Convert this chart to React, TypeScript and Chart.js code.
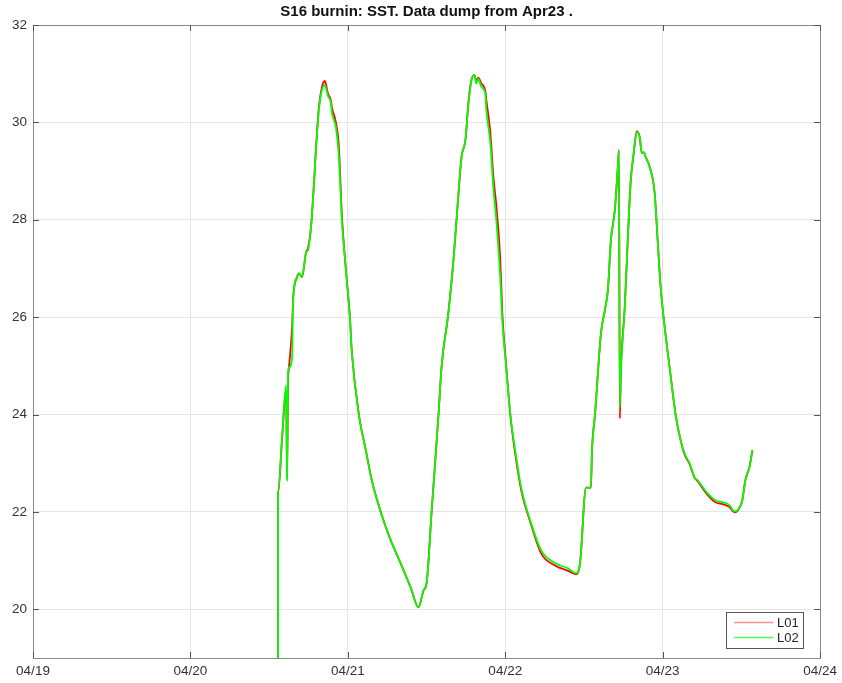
import React, { useEffect, useRef } from 'react';
import { Chart, registerables } from 'chart.js';

Chart.register(...registerables);

// time in days since 04/19 00:00
const timeDays = [
  1.557, 1.557, 1.582, 1.608, 1.614, 1.620, 1.627, 1.646, 1.652, 1.677,
  1.690, 1.709, 1.734, 1.747, 1.766, 1.785, 1.797, 1.816, 1.835, 1.854,
  1.873, 1.892, 1.899, 1.924, 1.943, 1.962, 1.987, 2.013, 2.025, 2.070,
  2.114, 2.152, 2.209, 2.272, 2.335, 2.399, 2.449, 2.481, 2.500, 2.532,
  2.576, 2.595, 2.639, 2.671, 2.703, 2.722, 2.747, 2.766, 2.785, 2.804,
  2.816, 2.829, 2.848, 2.873, 2.880, 2.905, 2.924, 2.943, 2.968, 2.981,
  3.006, 3.032, 3.063, 3.101, 3.158, 3.228, 3.316, 3.399, 3.449, 3.475,
  3.513, 3.544, 3.551, 3.570, 3.608, 3.633, 3.652, 3.671, 3.696, 3.715,
  3.722, 3.728, 3.734, 3.759, 3.778, 3.797, 3.816, 3.835, 3.854, 3.867,
  3.880, 3.892, 3.918, 3.949, 3.968, 3.987, 4.013, 4.044, 4.082, 4.114,
  4.139, 4.171, 4.203, 4.222, 4.285, 4.335, 4.380, 4.424, 4.456, 4.475,
  4.506, 4.525, 4.551, 4.570,
];

const l01Values = [
  18.0, 22.4, 23.5, 24.5, 22.7, 24.6, 25.0, 25.8, 26.35, 26.82,
  26.9, 26.82, 27.32, 27.42, 27.85, 28.75, 29.43, 30.3, 30.72, 30.85,
  30.6, 30.45, 30.3, 30.0, 29.5, 28.1, 27.0, 26.0, 25.3, 24.0,
  23.27, 22.65, 22.0, 21.42, 20.95, 20.45, 20.04, 20.39, 20.53, 22.0,
  24.0, 24.97, 26.1, 27.17, 28.55, 29.29, 29.64, 30.4, 30.87, 30.97,
  30.85, 30.92, 30.8, 30.65, 30.45, 29.8, 28.9, 28.3, 27.2, 26.1,
  25.0, 24.0, 23.2, 22.45, 21.8, 21.15, 20.9, 20.79, 20.72, 20.95,
  22.5, 22.5, 23.27, 24.0, 25.67, 26.15, 26.56, 27.58, 28.2, 29.08,
  29.43, 23.92, 24.85, 26.2, 27.58, 28.8, 29.37, 29.82, 29.7, 29.37,
  29.39, 29.29, 29.08, 28.55, 27.58, 26.62, 25.79, 24.97, 24.0, 23.47,
  23.18, 22.98, 22.7, 22.63, 22.35, 22.2, 22.16, 22.1, 21.99, 22.02,
  22.24, 22.65, 22.92, 23.27,
];

const l02Values = [
  18.0, 22.4, 23.5, 24.6, 22.65, 24.85, 24.97, 25.18, 26.35, 26.82,
  26.9, 26.82, 27.32, 27.38, 27.85, 28.75, 29.43, 30.25, 30.66, 30.77,
  30.55, 30.4, 30.19, 29.9, 29.29, 28.0, 27.0, 26.0, 25.3, 24.0,
  23.27, 22.65, 22.0, 21.42, 20.95, 20.45, 20.04, 20.39, 20.53, 22.0,
  24.0, 24.97, 26.1, 27.17, 28.55, 29.29, 29.64, 30.4, 30.87, 30.97,
  30.8, 30.9, 30.73, 30.6, 30.25, 29.58, 28.67, 28.0, 26.82, 25.94,
  24.97, 24.0, 23.27, 22.5, 21.83, 21.21, 20.95, 20.84, 20.74, 20.95,
  22.5, 22.5, 23.27, 24.0, 25.67, 26.15, 26.56, 27.58, 28.2, 29.08,
  29.43, 24.15, 24.85, 26.2, 27.58, 28.8, 29.37, 29.8, 29.7, 29.37,
  29.39, 29.29, 29.08, 28.55, 27.58, 26.62, 25.79, 24.97, 24.0, 23.47,
  23.2, 23.0, 22.71, 22.65, 22.38, 22.24, 22.2, 22.14, 22.01, 22.03,
  22.24, 22.65, 22.92, 23.27,
];

const xTickValues = [0, 1, 2, 3, 4, 5];
const xTickLabels = ['04/19', '04/20', '04/21', '04/22', '04/23', '04/24'];
const yTickValues = [20, 22, 24, 26, 28, 30, 32];
const seriesNames = ['L01', 'L02'];
const seriesColors = ['#ff0000', '#00ff00'];
const titleText = 'S16 burnin: SST. Data dump from Apr23 .';

const FONT = '"Liberation Sans", Arial, Helvetica, sans-serif';

const framePlugin = {
  id: 'framePlugin',
  afterDraw(chart: any) {
    const { ctx, chartArea } = chart;
    const { left, right, top, bottom } = chartArea;
    const xs = chart.scales.x;
    const ys = chart.scales.y;
    ctx.save();
    // box
    ctx.strokeStyle = '#8a8a8a';
    ctx.lineWidth = 1;
    ctx.strokeRect(Math.round(left) + 0.5, Math.round(top) + 0.5, Math.round(right - left), Math.round(bottom - top));
    // inward ticks
    ctx.strokeStyle = '#555555';
    const tl = 6;
    ctx.beginPath();
    xTickValues.forEach((v) => {
      const px = Math.round(xs.getPixelForValue(v)) + 0.5;
      ctx.moveTo(px, bottom);
      ctx.lineTo(px, bottom - tl);
      ctx.moveTo(px, top);
      ctx.lineTo(px, top + tl);
    });
    yTickValues.forEach((v) => {
      const py = Math.round(ys.getPixelForValue(v)) + 0.5;
      ctx.moveTo(left, py);
      ctx.lineTo(left + tl, py);
      ctx.moveTo(right, py);
      ctx.lineTo(right - tl, py);
    });
    ctx.stroke();

    // title
    ctx.fillStyle = '#111111';
    ctx.font = `bold 15px ${FONT}`;
    ctx.textAlign = 'center';
    ctx.textBaseline = 'middle';
    ctx.fillText(titleText, (left + right) / 2, 12);

    // legend
    const bx2 = right - 17;
    const by2 = bottom - 10;
    const bw = 77;
    const bh = 36;
    const bx = bx2 - bw;
    const by = by2 - bh;
    ctx.fillStyle = '#ffffff';
    ctx.fillRect(bx, by, bw, bh);
    ctx.strokeStyle = '#555555';
    ctx.lineWidth = 1;
    ctx.strokeRect(Math.round(bx) + 0.5, Math.round(by) + 0.5, bw, bh);
    ctx.font = `13px ${FONT}`;
    ctx.textAlign = 'left';
    seriesNames.forEach((name, i) => {
      const ly = by + 10 + i * 15;
      ctx.strokeStyle = seriesColors[i];
      ctx.lineWidth = 1.5;
      ctx.globalAlpha = i === 0 ? 0.45 : 0.7;
      ctx.beginPath();
      ctx.moveTo(bx + 8, ly + 0.5);
      ctx.lineTo(bx + 47, ly + 0.5);
      ctx.stroke();
      ctx.globalAlpha = 1;
      ctx.fillStyle = '#222222';
      ctx.fillText(name, bx + 51, ly + 1);
    });
    ctx.restore();
  },
};

export default function App() {
  const canvasRef = useRef<HTMLCanvasElement | null>(null);

  useEffect(() => {
    if (!canvasRef.current) return;
    const chart = new Chart(canvasRef.current, {
      type: 'line',
      data: {
        datasets: [
          {
            label: seriesNames[0],
            data: timeDays.map((t, i) => ({ x: t, y: l01Values[i] })),
            borderColor: seriesColors[0],
            borderWidth: 1.8,
            pointRadius: 0,
            cubicInterpolationMode: 'monotone',
            order: 2,
          },
          {
            label: seriesNames[1],
            data: timeDays.map((t, i) => ({ x: t, y: l02Values[i] })),
            borderColor: seriesColors[1],
            borderWidth: 1.8,
            pointRadius: 0,
            cubicInterpolationMode: 'monotone',
            order: 1,
          },
        ],
      },
      options: {
        responsive: false,
        animation: false,
        devicePixelRatio: 1,
        parsing: false as any,
        layout: { padding: { top: 25, right: 19, left: 0, bottom: 0 } },
        plugins: {
          legend: { display: false },
          title: { display: false },
          tooltip: { enabled: false },
        },
        scales: {
          x: {
            type: 'linear',
            min: 0,
            max: 5,
            afterBuildTicks: (s: any) => {
              s.ticks = xTickValues.map((v) => ({ value: v }));
            },
            afterFit: (s: any) => {
              s.height = 25;
            },
            ticks: {
              callback: (v: any) => xTickLabels[xTickValues.indexOf(Number(v))] ?? '',
              font: { family: FONT, size: 13.5 },
              color: '#333333',
              padding: 5,
              maxRotation: 0,
              autoSkip: false,
            },
            grid: { color: '#e6e6e6', lineWidth: 1, drawTicks: false },
            border: { display: false },
          },
          y: {
            type: 'linear',
            min: 19,
            max: 32,
            afterBuildTicks: (s: any) => {
              s.ticks = yTickValues.map((v) => ({ value: v }));
            },
            afterFit: (s: any) => {
              s.width = 33;
            },
            ticks: {
              font: { family: FONT, size: 13.5 },
              color: '#333333',
              padding: 6,
            },
            grid: { color: '#e6e6e6', lineWidth: 1, drawTicks: false },
            border: { display: false },
          },
        },
      },
      plugins: [framePlugin],
    });
    return () => chart.destroy();
  }, []);

  return (
    <div style={{ position: 'absolute', left: 0, top: 0, width: 842, height: 683, background: '#ffffff' }}>
      <canvas ref={canvasRef} width={842} height={683} style={{ display: 'block' }} />
    </div>
  );
}
